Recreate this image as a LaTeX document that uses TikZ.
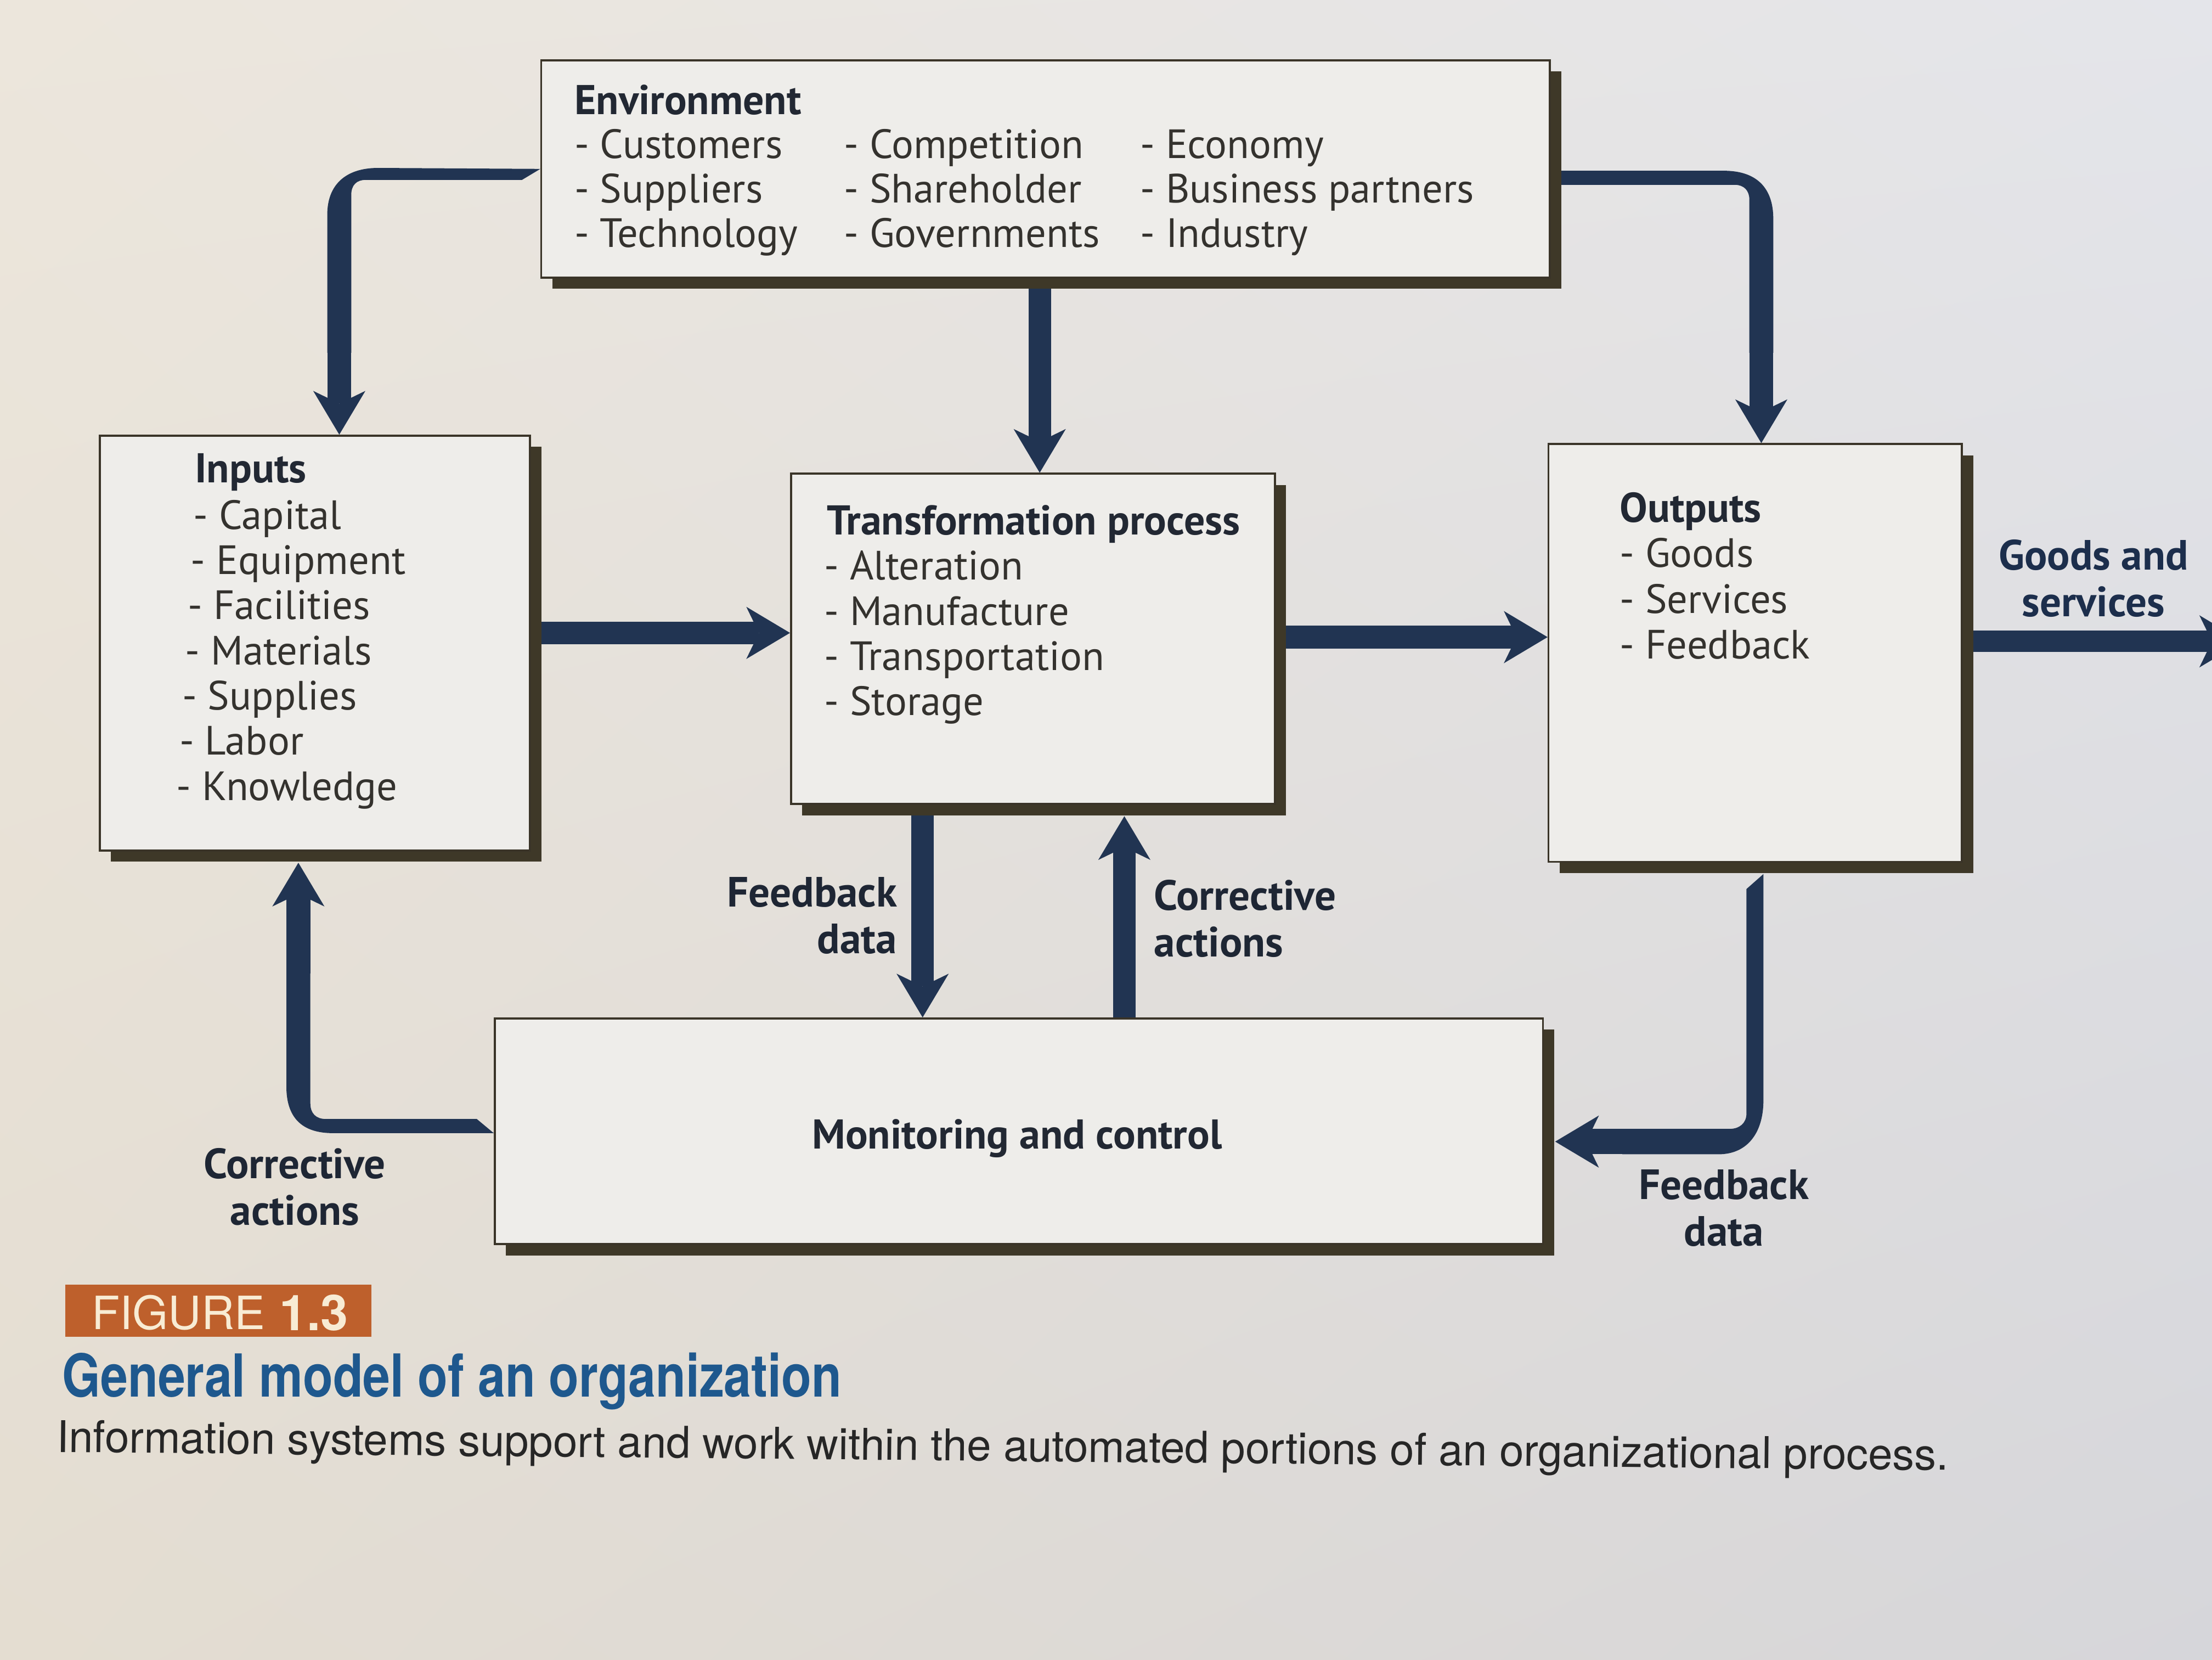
\documentclass[tikz,border=0pt]{standalone}
\usepackage{fontspec}
\setmainfont{PT Sans}
\newfontfamily\capfont{TeX Gyre Heros}
\newfontfamily\titlefont[FakeStretch=0.83]{TeX Gyre Heros}
\usetikzlibrary{arrows.meta,shadows,shadings,calc}
\pgfdeclarelayer{paper}
\pgfdeclarelayer{flows}
\pgfsetlayers{paper,flows,main}

\definecolor{navy}{RGB}{33,52,82}
\definecolor{navytext}{RGB}{28,46,76}
\definecolor{labc}{RGB}{30,38,52}
\definecolor{inkc}{RGB}{52,50,46}
\definecolor{boxline}{RGB}{58,52,40}
\definecolor{shadowc}{RGB}{62,56,40}
\definecolor{boxfill}{RGB}{238,237,234}
\definecolor{paperUL}{RGB}{236,230,220}
\definecolor{paperUR}{RGB}{228,229,234}
\definecolor{paperLL}{RGB}{228,221,209}
\definecolor{paperLR}{RGB}{214,214,218}
\definecolor{orangec}{RGB}{190,96,44}
\definecolor{creamc}{RGB}{248,236,212}
\definecolor{titleblue}{RGB}{30,88,142}
\definecolor{capink}{RGB}{38,38,38}

\tikzset{
  box/.style={draw=boxline, line width=1.4pt, fill=boxfill, anchor=north west, inner sep=0pt,
    drop shadow={shadow xshift=8pt, shadow yshift=-8pt, fill=shadowc, opacity=1}},
  txt/.style={anchor=base west, inner sep=0pt, text=inkc, font=\fontsize{29}{32}\selectfont},
  hdr/.style={txt, font=\bfseries\fontsize{29.5}{32}\selectfont, text=labc!80!inkc},
  lab/.style={inner sep=0pt, text=labc, font=\bfseries\fontsize{30}{33}\selectfont},
  flow/.style={draw=navy, line width=16pt, -{Stealth[length=31pt,width=37pt,inset=9pt,line width=0pt]}},
  ribbon/.style={fill=navy}
}

\begin{document}
\begin{tikzpicture}[x=1pt,y=-1pt]
\useasboundingbox (0,0) rectangle (1568,1176);
\begin{pgfonlayer}{paper}
  \shade[upper left=paperUL, upper right=paperUR, lower left=paperLL, lower right=paperLR] (0,0) rectangle (1568,1176);
\end{pgfonlayer}

% boxes
\node[box, minimum width=715pt, minimum height=154pt] (env) at (383,42) {};
\node[box, minimum width=305pt, minimum height=294pt] (inputs) at (70,308) {};
\node[box, minimum width=343pt, minimum height=234pt] (trans) at (560,335) {};
\node[box, minimum width=293pt, minimum height=296pt] (outputs) at (1097,314) {};
\node[box, minimum width=743pt, minimum height=160pt] (monitor) at (350,721) {};

% environment text
\node[hdr] (envH) at (407,81) {Environment};
\foreach \t [count=\i] in {Customers,Suppliers,Technology}
  \node[txt] (envA\i) at (407,{112+31.5*(\i-1)}) {- \t};
\foreach \t [count=\i] in {Competition,Shareholder,Governments}
  \node[txt] (envB\i) at (598,{112+31.5*(\i-1)}) {- \t};
\foreach \t [count=\i] in {Economy,Business partners,Industry}
  \node[txt] (envC\i) at (808,{112+31.5*(\i-1)}) {- \t};

% inputs text
\node[hdr] (inH) at (138,342) {Inputs};
\foreach \t [count=\i] in {Capital,Equipment,Facilities,Materials,Supplies,Labor,Knowledge}
  \node[txt] (in\i) at ({137-2*(\i-1)},{375+32*(\i-1)}) {- \t};

% transformation text
\node[hdr] (trH) at (586,379) {Transformation process};
\foreach \t [count=\i] in {Alteration,Manufacture,Transportation,Storage}
  \node[txt] (tr\i) at (584,{411+32*(\i-1)}) {- \t};

% outputs text
\node[hdr] (outH) at (1148,370) {Outputs};
\foreach \t [count=\i] in {Goods,Services,Feedback}
  \node[txt] (out\i) at (1148,{402+32.5*(\i-1)}) {- \t};

% monitoring text
\node[hdr, anchor=base] (monH) at (721,814) {Monitoring and control};

% labels
\node[lab, anchor=east, align=right] (fbA) at (636,649) {Feedback\\data};
\node[lab, anchor=west, align=left] (caA) at (818,651) {Corrective\\actions};
\node[lab, align=center] (caB) at (209,841) {Corrective\\actions};
\node[lab, align=center] (fbB) at (1222,856) {Feedback\\data};
\node[lab, align=center, text=navytext] (gs) at (1484,410) {Goods and\\services};

% connectors
\coordinate (off) at (1590,454.5);
\coordinate (a1) at (240.5,240);
\coordinate (a3) at (1248.5,240);
\coordinate (a9) at (211.5,690);
\coordinate (a10) at (1160,809);
\begin{pgfonlayer}{flows}
  % environment -> inputs
  \fill[ribbon] (env.west) -- (268,119) .. controls (245,119) and (232,131) .. (232,152) -- (232,250)
     -- (249,250) -- (249,138) .. controls (249,131) and (253,127.5) .. (259,127.5) -- (370,127.5) -- cycle;
  \draw[flow, line width=17pt] (a1) -- (inputs.north -| a1);
  % environment -> transformation
  \draw[flow] (env.south -| 737,0) -- (trans.north -| 737,0);
  % environment -> outputs
  \fill[ribbon] (env.east |- 0,121) -- (1222,121) .. controls (1245,121) and (1257,133) .. (1257,155) -- (1257,250)
     -- (1240,250) -- (1240,141) .. controls (1240,135) and (1236,131) .. (1230,131) -- (env.east |- 0,131) -- cycle;
  \draw[flow, line width=17pt] (a3) -- (outputs.north -| a3);
  % inputs -> transformation
  \draw[flow] (inputs.east |- 0,448.5) -- (trans.west |- 0,448.5);
  % transformation -> outputs
  \draw[flow] (trans.east |- 0,451.5) -- (outputs.west |- 0,451.5);
  % outputs -> goods and services
  \draw[flow, line width=15pt] (outputs.east |- 0,454.5) -- (off);
  % transformation -> monitoring (feedback data)
  \draw[flow] (trans.south -| 654,0) -- (monitor.north -| 654,0);
  % monitoring -> transformation (corrective actions)
  \draw[flow] (monitor.north -| 797,0) -- ($(trans.south -| 797,0)+(0,8)$);
  % monitoring -> inputs (corrective actions)
  \fill[ribbon] (monitor.west |- 0,803) -- (236,803) .. controls (214,803) and (203,792) .. (203,770) -- (203,680)
     -- (220,680) -- (220,782) .. controls (220,789) and (224,793) .. (231,793) -- (338,793) -- cycle;
  \draw[flow, line width=17pt] (a9) -- ($(inputs.south -| a9)+(0,8)$);
  % outputs -> monitoring (feedback data)
  \fill[ribbon] ($(outputs.south -| 1250,0)+(0,8)$) -- (1250,780) .. controls (1250,801) and (1240,818) .. (1218,818)
     -- (1150,818) -- (1150,800) -- (1226,800) .. controls (1233,800) and (1238,796) .. (1238,789) -- (1238,630) -- cycle;
  \draw[flow, line width=18pt] (a10) -- ($(monitor.east |- a10)+(8,0)$);
\end{pgfonlayer}

% caption
\node[fill=orangec, minimum width=217pt, minimum height=37pt, anchor=north west, inner sep=0pt] (figbox) at (46,910) {};
\node[anchor=base west, inner sep=0pt, text=creamc, font=\capfont\fontsize{32.5}{34}\selectfont] (figword) at (65,942) {FIGURE};
\node[anchor=base west, inner sep=0pt, text=creamc, font=\capfont\bfseries\fontsize{35}{36}\selectfont] (fignum) at (198,943) {1.3};
\node[anchor=base west, inner sep=0pt, text=titleblue, font=\titlefont\bfseries\fontsize{42}{44}\selectfont] (title) at (44,990) {General model of an organization};
\node[anchor=base west, inner sep=0pt, text=capink, rotate=-0.55, font=\capfont\fontsize{31}{33}\selectfont] (sub) at (40,1029) {Information systems support and work within the automated portions of an organizational process.};
\end{tikzpicture}
\end{document}
